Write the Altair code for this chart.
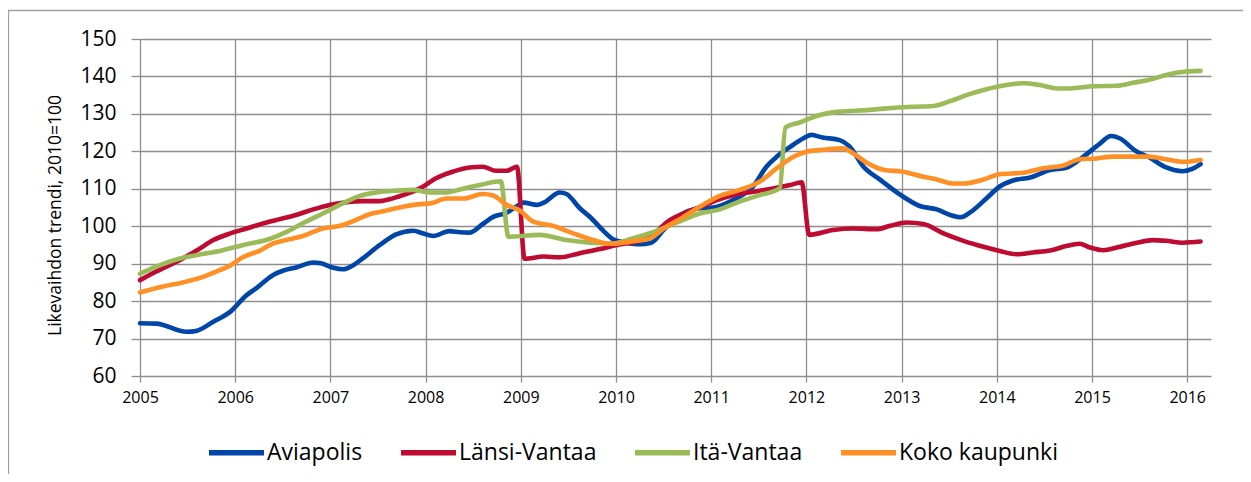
import altair as alt
import pandas as pd

series_names = ["Aviapolis", "Länsi-Vantaa", "Itä-Vantaa", "Koko kaupunki"]
series_colors = ["#0046A8", "#BE0B31", "#9BBB59", "#FF9025"]

avia_t = [2005.00, 2005.17, 2005.49, 2005.60, 2005.77, 2005.95, 2006.12, 2006.22, 2006.40, 2006.50,
          2006.64, 2006.82, 2006.90, 2007.03, 2007.13, 2007.24, 2007.34, 2007.52, 2007.69, 2007.87,
          2007.97, 2008.08, 2008.25, 2008.36, 2008.46, 2008.60, 2008.71, 2008.85, 2008.95, 2009.03,
          2009.17, 2009.24, 2009.41, 2009.48, 2009.62, 2009.73, 2009.87, 2009.97, 2010.11, 2010.25,
          2010.37, 2010.50, 2010.64, 2010.88, 2011.02, 2011.23, 2011.44, 2011.58, 2011.69, 2011.83,
          2011.97, 2012.05, 2012.17, 2012.35, 2012.45, 2012.60, 2012.77, 2012.98, 2013.19, 2013.37,
          2013.51, 2013.62, 2013.72, 2013.89, 2014.03, 2014.17, 2014.35, 2014.56, 2014.73, 2014.91,
          2015.08, 2015.20, 2015.29, 2015.46, 2015.60, 2015.78, 2015.95, 2016.06, 2016.14]
avia_v = [74.1, 74.0, 71.8, 72.1, 74.5, 77.2, 81.6, 83.4, 87.0, 88.1,
          89.0, 90.3, 90.1, 88.9, 88.5, 89.6, 91.4, 95.0, 97.8, 98.8,
          98.1, 97.4, 98.7, 98.4, 98.3, 100.6, 102.5, 103.6, 105.2, 106.3,
          105.7, 106.3, 109.0, 108.6, 104.8, 102.4, 98.7, 96.5, 95.6, 95.2,
          95.6, 99.0, 102.4, 104.8, 105.0, 107.0, 110.6, 115.9, 118.6, 121.2,
          123.5, 124.4, 123.7, 123.0, 121.4, 115.9, 112.5, 108.5, 105.4, 104.5,
          103.0, 102.4, 103.7, 107.4, 110.6, 112.2, 113.0, 115.0, 115.6, 118.6,
          122.0, 124.1, 123.5, 120.1, 118.4, 115.7, 114.7, 115.4, 116.6]

lansi_t = [2005.00, 2005.17, 2005.42, 2005.60, 2005.77, 2005.95, 2006.12, 2006.30, 2006.47, 2006.64,
           2006.82, 2006.99, 2007.17, 2007.34, 2007.52, 2007.62, 2007.76, 2007.94, 2008.11, 2008.29,
           2008.46, 2008.60, 2008.74, 2008.85, 2008.96, 2009.04, 2009.24, 2009.41, 2009.62, 2009.83,
           2010.01, 2010.25, 2010.39, 2010.53, 2010.71, 2010.88, 2011.06, 2011.23, 2011.44, 2011.65,
           2011.83, 2011.95, 2012.03, 2012.28, 2012.49, 2012.74, 2012.88, 2013.05, 2013.23, 2013.44,
           2013.65, 2013.86, 2014.03, 2014.21, 2014.38, 2014.56, 2014.73, 2014.87, 2014.98, 2015.12,
           2015.26, 2015.47, 2015.64, 2015.78, 2015.95, 2016.14]
lansi_v = [85.6, 87.9, 91.0, 93.6, 96.3, 98.1, 99.4, 100.8, 101.9, 103.0,
           104.5, 105.7, 106.4, 106.7, 106.7, 107.2, 108.3, 110.1, 112.8, 114.6,
           115.7, 115.9, 114.8, 114.8, 115.9, 91.3, 91.9, 91.7, 92.8, 93.9,
           95.0, 96.1, 97.7, 101.0, 103.4, 105.1, 107.0, 108.3, 109.2, 110.1,
           111.0, 111.7, 97.7, 99.0, 99.4, 99.2, 100.1, 101.0, 100.6, 98.1,
           96.1, 94.5, 93.4, 92.5, 93.0, 93.5, 94.7, 95.3, 94.3, 93.6,
           94.3, 95.6, 96.3, 96.1, 95.6, 95.9]

ita_t = [2005.00, 2005.17, 2005.42, 2005.60, 2005.87, 2006.12, 2006.36, 2006.54, 2006.71, 2006.92,
         2007.13, 2007.31, 2007.48, 2007.69, 2007.87, 2008.05, 2008.22, 2008.40, 2008.57, 2008.79,
         2008.87, 2009.20, 2009.48, 2009.73, 2009.97, 2010.18, 2010.39, 2010.64, 2010.88, 2011.09,
         2011.30, 2011.51, 2011.72, 2011.78, 2011.93, 2012.14, 2012.35, 2012.63, 2012.81, 2013.12,
         2013.33, 2013.51, 2013.68, 2013.86, 2014.03, 2014.28, 2014.45, 2014.63, 2014.77, 2015.01,
         2015.26, 2015.43, 2015.60, 2015.81, 2015.99, 2016.14]
ita_v = [87.3, 89.2, 91.4, 92.3, 93.6, 95.2, 96.6, 98.5, 100.8, 103.4,
         106.1, 108.1, 109.0, 109.5, 109.7, 109.0, 109.0, 110.1, 111.0, 112.0,
         97.2, 97.7, 96.3, 95.6, 95.4, 96.8, 98.4, 101.0, 103.4, 104.5,
         106.6, 108.3, 110.1, 126.4, 127.7, 129.7, 130.6, 131.0, 131.4, 131.9,
         132.1, 133.4, 135.0, 136.4, 137.4, 138.2, 137.7, 136.8, 136.8, 137.4,
         137.5, 138.3, 139.1, 140.6, 141.3, 141.5]

koko_t = [2005.00, 2005.24, 2005.45, 2005.63, 2005.80, 2005.94, 2006.08, 2006.26, 2006.40, 2006.57,
          2006.71, 2006.92, 2007.10, 2007.27, 2007.41, 2007.59, 2007.76, 2007.94, 2008.05, 2008.22,
          2008.40, 2008.60, 2008.71, 2008.85, 2008.99, 2009.13, 2009.34, 2009.55, 2009.76, 2009.94,
          2010.18, 2010.36, 2010.50, 2010.71, 2010.88, 2011.09, 2011.30, 2011.51, 2011.69, 2011.87,
          2012.00, 2012.21, 2012.38, 2012.49, 2012.63, 2012.82, 2013.00, 2013.23, 2013.37, 2013.54,
          2013.65, 2013.86, 2014.03, 2014.28, 2014.49, 2014.70, 2014.87, 2015.05, 2015.22, 2015.43,
          2015.60, 2015.78, 2015.95, 2016.14]
koko_v = [82.3, 83.9, 85.0, 86.2, 87.9, 89.4, 91.7, 93.5, 95.4, 96.5,
          97.4, 99.4, 100.1, 101.7, 103.2, 104.2, 105.2, 105.9, 106.1, 107.4,
          107.4, 108.6, 108.2, 105.7, 104.2, 101.2, 100.1, 98.1, 96.3, 95.3,
          96.0, 96.8, 99.4, 102.5, 105.2, 108.1, 109.7, 111.9, 115.5, 118.6,
          119.9, 120.5, 120.8, 119.5, 117.0, 115.0, 114.6, 113.2, 112.5, 111.4,
          111.4, 112.5, 113.9, 114.3, 115.5, 116.2, 117.9, 118.1, 118.6, 118.6,
          118.6, 117.9, 117.2, 117.7]

year_ticks = list(range(2005, 2017))
y_ticks = list(range(60, 151, 10))

rows = []
for name, ts, vs in zip(series_names, [avia_t, lansi_t, ita_t, koko_t], [avia_v, lansi_v, ita_v, koko_v]):
    for t, v in zip(ts, vs):
        rows.append({"series": name, "t": t, "v": v})
df = pd.DataFrame(rows)

FONT = "Open Sans"
GRID = "#8e8e8e"
W, H = 1071, 337

lines = alt.Chart(df).mark_line(strokeWidth=4.6, strokeCap="round", strokeJoin="round", interpolate="monotone").encode(
    x=alt.X("t:Q", scale=alt.Scale(domain=[2005, 2016.25], nice=False, zero=False),
            axis=alt.Axis(values=year_ticks, format="d", title=None, grid=True, gridColor=GRID, gridWidth=1.3,
                          domain=False, ticks=True, tickSize=6, tickColor=GRID, tickWidth=1.3,
                          labelFont=FONT, labelFontSize=16, labelColor="#000000", labelPadding=7,
                          labelFlush=False, labelOverlap=False)),
    y=alt.Y("v:Q", scale=alt.Scale(domain=[60, 150], nice=False, zero=False),
            axis=alt.Axis(values=y_ticks, title="Likevaihdon trendi, 2010=100", grid=True, gridColor=GRID,
                          gridWidth=1.3, domain=False, ticks=True, tickSize=9, tickColor=GRID, tickWidth=1.3,
                          labelFont=FONT, labelFontSize=21, labelColor="#000000", labelPadding=15,
                          titleFont=FONT, titleFontSize=17.5, titleFontWeight="normal", titleColor="#000000",
                          titleX=-85, titleY=176, titleAngle=270, titleBaseline="middle", titleAlign="center")),
    color=alt.Color("series:N", scale=alt.Scale(domain=series_names, range=series_colors),
                    sort=series_names,
                    legend=alt.Legend(title=None, orient="none", legendX=66, legendY=383, direction="horizontal",
                                      symbolType="stroke", symbolSize=3025, symbolStrokeWidth=5.5,
                                      labelFont=FONT, labelFontSize=23, labelColor="#000000", labelOffset=0,
                                      columnPadding=27, labelLimit=300)),
)

border = alt.Chart(pd.DataFrame({"a": [0]})).mark_rect(fill=None, stroke="#a0a0a0", strokeWidth=1.3).encode(
    x=alt.value(-131.5), x2=alt.value(W + 200), y=alt.value(-28.5), y2=alt.value(H + 200)
)

chart = alt.layer(border, lines).properties(
    width=W, height=H,
    autosize=alt.AutoSizeParams(type="none"),
    padding={"left": 132, "top": 31, "right": 32, "bottom": 98},
).configure_view(stroke=None)

chart.save("out.html", embed_options={"renderer": "svg", "actions": False})
